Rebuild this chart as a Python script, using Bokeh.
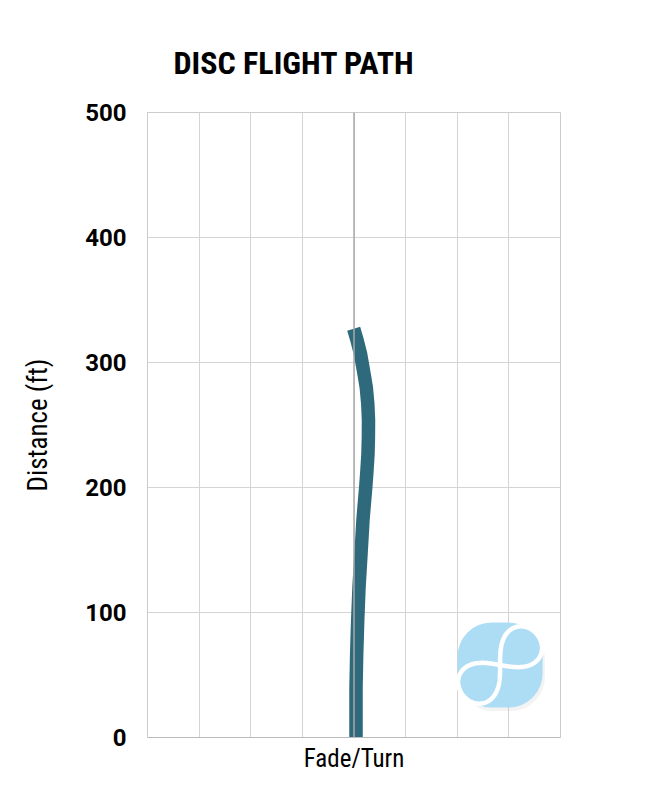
import numpy as np
from bokeh.plotting import figure
from bokeh.models import Range1d, FixedTicker, Span
from bokeh.embed import file_html
from bokeh.resources import INLINE

# Flight path: lateral offset (fade/turn units) vs distance (ft)
distance = [0, 40, 67, 94, 120, 147, 174, 187, 200, 213, 227, 240, 254, 267, 280, 291, 299, 307, 318, 327]
lateral = [0.39, 0.39, 0.52, 0.72, 0.97, 1.36, 1.74, 2.0, 2.27, 2.5, 2.71, 2.79, 2.81, 2.67,
           2.38, 1.94, 1.6, 1.26, 0.58, -0.06]

y_ticks = [0, 100, 200, 300, 400, 500]
x_grid = [-40, -30, -20, -10, 0, 10, 20, 30, 40]

title_text = "DISC FLIGHT PATH"
x_label = "Fade/Turn"
y_label = "Distance (ft)"

COND = "'Roboto Condensed', 'DejaVu Sans Condensed', 'Liberation Sans Narrow', 'Noto Sans', sans-serif"

p = figure(width=600, height=795, output_backend="svg", toolbar_location=None,
           x_range=Range1d(-40, 40), y_range=Range1d(0, 500),
           min_border_left=147, min_border_right=40, min_border_bottom=58, min_border_top=112)

p.title.text = title_text
p.title.text_font = COND
p.title.text_font_style = "bold"
p.title.text_font_size = "32px"
p.title.text_color = "black"
p.title.align = "left"
p.title.offset = 26
p.title.standoff = 61

p.outline_line_color = "#cccccc"
p.background_fill_color = "white"
p.border_fill_color = "white"

p.xgrid.ticker = FixedTicker(ticks=x_grid)
p.ygrid.ticker = FixedTicker(ticks=y_ticks)
p.xgrid.grid_line_color = "#d4d4d4"
p.ygrid.grid_line_color = "#d4d4d4"

p.yaxis.ticker = FixedTicker(ticks=y_ticks)
p.yaxis.major_tick_line_color = None
p.yaxis.minor_tick_line_color = None
p.yaxis.axis_line_color = "#cccccc"
p.yaxis.major_label_text_font = "Roboto"
p.yaxis.major_label_text_font_style = "bold"
p.yaxis.major_label_text_font_size = "24px"
p.yaxis.major_label_text_color = "black"
p.yaxis.major_label_standoff = 15
p.yaxis.axis_label = y_label
p.yaxis.axis_label_text_font = COND
p.yaxis.axis_label_text_font_style = "normal"
p.yaxis.axis_label_text_font_size = "27px"
p.yaxis.axis_label_text_color = "black"
p.yaxis.axis_label_standoff = 28

p.xaxis.ticker = FixedTicker(ticks=[])
p.xaxis.major_tick_line_color = None
p.xaxis.minor_tick_line_color = None
p.xaxis.axis_line_color = "#bbbbbb"
p.xaxis.major_label_text_font_size = "0px"
p.xaxis.axis_label = x_label
p.xaxis.axis_label_text_font = COND
p.xaxis.axis_label_text_font_style = "normal"
p.xaxis.axis_label_text_font_size = "25px"
p.xaxis.axis_label_text_color = "black"
p.xaxis.axis_label_standoff = 6

p.add_layout(Span(location=0, dimension="height", line_color="#aaaaaa", line_width=1.5))

p.line(lateral, distance, line_color="#276578", line_width=13.5, line_alpha=0.97,
       line_cap="butt", line_join="round")

# decorative logo (rounded badge with a white figure-eight)
logo_x, logo_y = 28.3, 58
p.rect([logo_x + 0.35], [logo_y - 2.4], width=86, height=86, width_units="screen",
       height_units="screen", fill_color="#888888", fill_alpha=0.1, line_color=None,
       border_radius=34)
p.rect([logo_x], [logo_y], width=85, height=85, width_units="screen", height_units="screen",
       fill_color="#a9dcf5", line_color=None, fill_alpha=0.97, border_radius=34)
t = np.linspace(0, 2 * np.pi, 300)
a = 48.0
lx = a * np.cos(t) / (1 + np.sin(t) ** 2)
ly = a * np.sin(t) * np.cos(t) / (1 + np.sin(t) ** 2) * 1.2
ang = np.deg2rad(40)
px = lx * np.cos(ang) - ly * np.sin(ang)
py = lx * np.sin(ang) + ly * np.cos(ang)
# convert pixels to data units (5.16 px per x unit, 1.25 px per y unit)
p.line(logo_x + px / 5.16, logo_y + py / 1.25, line_color="white", line_width=4.5)

open("out.html", "w").write(file_html(p, INLINE))
